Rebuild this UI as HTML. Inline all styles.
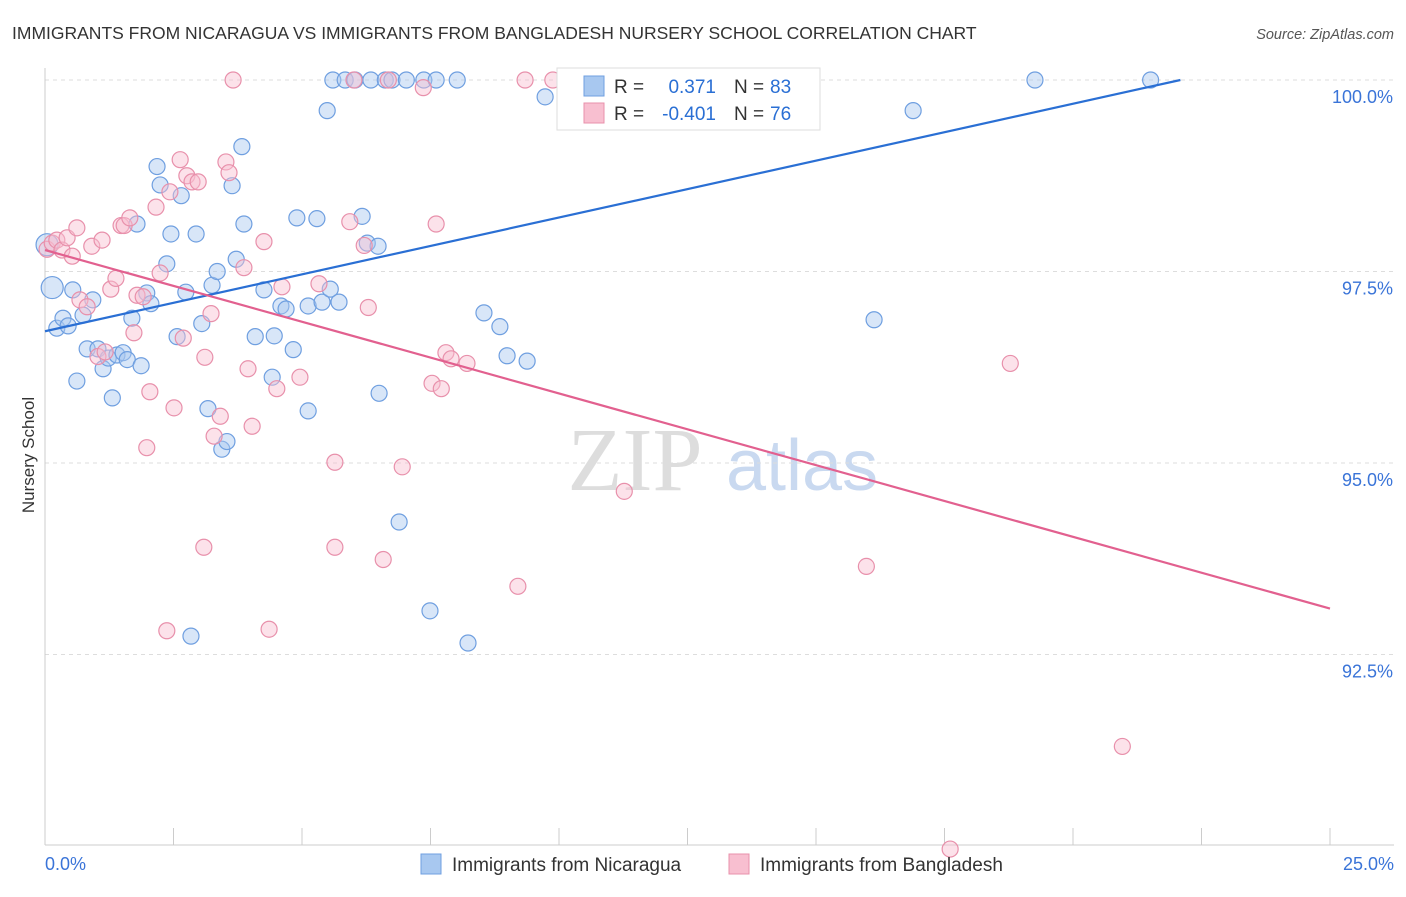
<!DOCTYPE html>
<html><head><meta charset="utf-8"><style>
body{margin:0;background:#fff;font-family:"Liberation Sans",sans-serif}
</style></head><body>
<svg id="chartsvg" width="1406" height="892" xmlns="http://www.w3.org/2000/svg" font-family="Liberation Sans, sans-serif">
<text x="12" y="39" font-size="17.5" fill="#333">IMMIGRANTS FROM NICARAGUA VS IMMIGRANTS FROM BANGLADESH NURSERY SCHOOL CORRELATION CHART</text>
<text x="1394" y="39" font-size="14.5" fill="#555" text-anchor="end" font-style="italic">Source: ZipAtlas.com</text>
<text x="34" y="455" font-size="17" fill="#333" text-anchor="middle" transform="rotate(-90 34 455)">Nursery School</text>
<g><text x="635" y="490" font-size="90" fill="#ddd" text-anchor="middle" font-family="Liberation Serif, serif">ZIP</text><text x="802" y="490" font-size="72" fill="#c9d9f0" text-anchor="middle">atlas</text></g>
<g id="gGrid"></g><g id="gAxes"></g><g id="gPts"></g><g id="gLines"></g>
<g>
<rect x="557" y="68" width="263" height="62" fill="#fff" stroke="#ddd"/>
<rect x="584" y="76" width="20" height="20" fill="#a8c8f0" stroke="#6f9fe0"/>
<rect x="584" y="103" width="20" height="20" fill="#f8bfd0" stroke="#e890ab"/>
<text x="614" y="93" font-size="19" fill="#333">R =</text>
<text x="716" y="93" font-size="19" fill="#2a6fd4" text-anchor="end">0.371</text>
<text x="734" y="93" font-size="19" fill="#333">N =</text>
<text x="770" y="93" font-size="19" fill="#2a6fd4">83</text>
<text x="614" y="120" font-size="19" fill="#333">R =</text>
<text x="716" y="120" font-size="19" fill="#2a6fd4" text-anchor="end">-0.401</text>
<text x="734" y="120" font-size="19" fill="#333">N =</text>
<text x="770" y="120" font-size="19" fill="#2a6fd4">76</text>
</g>
<g>
<rect x="421" y="854" width="20" height="20" fill="#a8c8f0" stroke="#6f9fe0"/>
<text x="452" y="871" font-size="19" fill="#333">Immigrants from Nicaragua</text>
<rect x="729" y="854" width="20" height="20" fill="#f8bfd0" stroke="#e890ab"/>
<text x="760" y="871" font-size="19" fill="#333">Immigrants from Bangladesh</text>
</g>
</svg>
<script>
var yTicks=[100,97.5,95,92.5];
var yTickLabels=["100.0%","97.5%","95.0%","92.5%"];
var xTickLabels=["0.0%","25.0%"];
var blueX=[0.14,0.04,0.23,0.35,0.45,0.54,0.62,0.74,0.82,0.93,1.03,1.13,1.23,1.31,1.4,1.52,1.6,1.69,1.79,1.87,1.98,2.06,2.18,2.24,2.37,2.45,2.57,2.65,2.74,2.84,2.94,3.05,3.17,3.25,3.35,3.44,3.54,3.64,3.72,3.83,3.87,4.09,4.26,4.42,4.46,4.59,4.69,4.83,4.9,5.12,5.12,5.29,5.39,5.55,5.49,5.6,5.72,5.84,6.03,6.17,6.27,6.34,6.48,6.62,6.5,6.75,6.89,7.03,7.37,7.49,7.61,8.02,8.23,8.54,8.85,8.99,9.38,9.73,10.7,11.97,16.13,16.89,19.26,21.51];
var blueY=[97.29,97.85,96.76,96.89,96.79,97.26,96.07,96.93,96.49,97.13,96.49,96.23,96.37,95.85,96.41,96.44,96.35,96.89,98.12,96.27,97.22,97.08,98.87,98.63,97.6,97.99,96.65,98.49,97.23,92.74,97.99,96.82,95.71,97.32,97.5,95.18,95.28,98.62,97.66,99.13,98.12,96.65,97.26,96.12,96.66,97.05,97.01,96.48,98.2,95.68,97.05,98.19,97.1,97.27,99.6,100,97.1,100,100,98.22,97.87,100,97.83,100,95.91,100,94.23,100,100,93.07,100,100,92.65,96.96,96.78,96.4,96.33,99.78,99.95,100.03,96.87,99.6,100,100];
var pinkX=[0.04,0.14,0.23,0.33,0.43,0.53,0.62,0.68,0.82,0.91,1.03,1.11,1.17,1.28,1.38,1.48,1.54,1.65,1.73,1.79,1.91,2.04,1.98,2.16,2.24,2.37,2.43,2.51,2.63,2.69,2.76,2.86,2.98,3.09,3.11,3.23,3.29,3.41,3.52,3.58,3.66,3.87,3.95,4.03,4.26,4.36,4.51,4.61,4.96,5.33,5.64,5.64,5.93,6.01,6.21,6.29,6.58,6.68,6.95,7.36,7.53,7.61,7.71,7.8,7.9,8.21,9.2,9.34,9.88,11.27,15.98,17.61,18.78,20.96];
var pinkY=[97.79,97.87,97.91,97.78,97.94,97.7,98.07,97.13,97.04,97.83,96.39,97.91,96.45,97.27,97.41,98.1,98.1,98.2,96.7,97.19,97.17,95.93,95.2,98.34,97.48,92.81,98.54,95.72,98.96,96.63,98.75,98.67,98.67,93.9,96.38,96.95,95.35,95.61,98.93,98.79,100,97.55,96.23,95.48,97.89,92.83,95.97,97.3,96.12,97.34,95.01,93.9,98.15,100,97.84,97.03,93.74,100,94.95,99.9,96.04,98.12,95.97,96.44,96.36,96.3,93.39,100,100,94.63,93.65,89.96,96.3,91.3];
var blueLine=[[0,96.72],[22.09,100]];
var pinkLine=[[0,97.78],[25,93.1]];
var SVGNS="http://www.w3.org/2000/svg";
function sx(v){return 45+v/25*1285;}
function sy(v){return 80+(100-v)*76.6;}
function mk(tag,attrs,parent){
  var e=document.createElementNS(SVGNS,tag);
  for(var k in attrs){e.setAttribute(k,String(attrs[k]));}
  parent.appendChild(e);
  return e;
}
var gridG=document.getElementById('gGrid');
var axesG=document.getElementById('gAxes');
var ptsG=document.getElementById('gPts');
var linesG=document.getElementById('gLines');
for(var i=0;i<yTicks.length;i++){
  var gl=mk('line',{x1:45,x2:1394,y1:sy(yTicks[i]),y2:sy(yTicks[i]),stroke:'#ddd','stroke-dasharray':'4,4'},gridG);
  
  
  var yl=mk('text',{x:1393,y:sy(yTicks[i])+23,'font-size':18,fill:'#3a74d8','text-anchor':'end'},axesG);
  yl.textContent=yTickLabels[i];
  
  
}
var ax=mk('line',{x1:45,x2:1394,y1:845,y2:845,stroke:'#ccc'},axesG);


var ay=mk('line',{x1:45,x2:45,y1:68,y2:845,stroke:'#ccc'},axesG);


for(var j=0;j<=10;j++){
  var tk=mk('line',{x1:sx(j*2.5),x2:sx(j*2.5),y1:828,y2:845,stroke:'#ccc'},axesG);
  
  
}
var xl0=mk('text',{x:45,y:870,'font-size':18,fill:'#3a74d8','text-anchor':'start'},axesG);
xl0.textContent=xTickLabels[0];


var xl1=mk('text',{x:1394,y:870,'font-size':18,fill:'#3a74d8','text-anchor':'end'},axesG);
xl1.textContent=xTickLabels[1];


function dots(xs,ys,fillC,strokeC,nm){
  for(var m=0;m<xs.length;m++){
    var rr=(m<2&&nm==='blue')?11:8;
    var c=mk('circle',{cx:sx(xs[m]),cy:sy(ys[m]),r:rr,fill:fillC,'fill-opacity':0.45,stroke:strokeC,'stroke-width':1.2},ptsG);
    
    
  }
}
dots(blueX,blueY,'#a8c8f0','#6f9fe0','blue');
dots(pinkX,pinkY,'#f8bfd0','#e890ab','pink');
var bl=mk('line',{x1:sx(blueLine[0][0]),y1:sy(blueLine[0][1]),x2:sx(blueLine[1][0]),y2:sy(blueLine[1][1]),stroke:'#2a6fd4','stroke-width':2.2},linesG);


var pl=mk('line',{x1:sx(pinkLine[0][0]),y1:sy(pinkLine[0][1]),x2:sx(pinkLine[1][0]),y2:sy(pinkLine[1][1]),stroke:'#e2608f','stroke-width':2.2},linesG);


</script>
</body></html>
